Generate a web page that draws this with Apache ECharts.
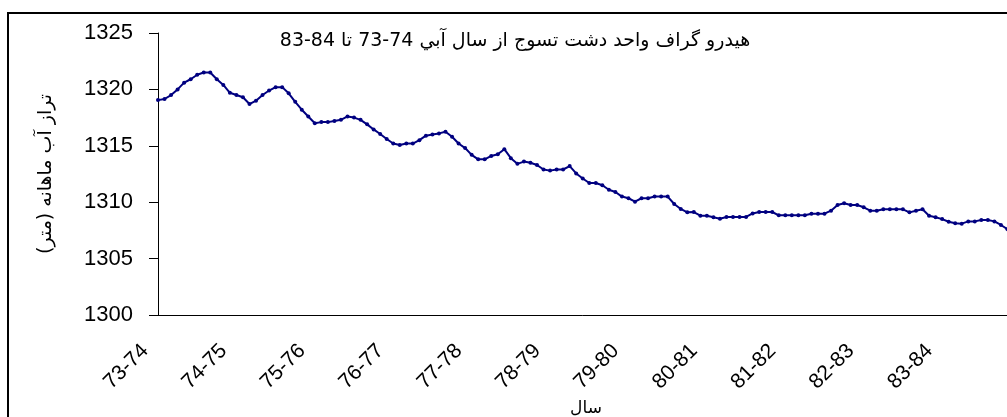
<!DOCTYPE html>
<html>
<head>
<meta charset="utf-8">
<script src="https://cdn.jsdelivr.net/npm/echarts@6/dist/echarts.min.js"></script>
<style>
html,body{margin:0;padding:0;background:#fff;}
#chart{width:1007px;height:417px;}
</style>
</head>
<body>
<div id="chart"></div>
<script>
const chartTitle = 'هيدرو گراف واحد دشت تسوج از سال آبي 74-73 تا 84-83';
const yAxisName = 'تراز آب ماهانه (متر)';
const xAxisName = 'سال';
const years = ['73-74','74-75','75-76','76-77','77-78','78-79','79-80','80-81','81-82','82-83','83-84'];
const yTicks = { min: 1300, max: 1325, step: 5 };
// monthly water level (m), 12 per water year
const levels = [
  1319.05,1319.15,1319.5,1320.0,1320.6,1320.9,1321.3,1321.5,1321.5,1320.9,1320.4,1319.7,
  1319.5,1319.3,1318.7,1319.0,1319.5,1319.9,1320.2,1320.2,1319.65,1318.9,1318.2,1317.6,
  1317.0,1317.1,1317.1,1317.2,1317.3,1317.6,1317.5,1317.3,1316.9,1316.45,1316.05,1315.6,
  1315.2,1315.07,1315.2,1315.2,1315.5,1315.9,1316.0,1316.1,1316.25,1315.8,1315.2,1314.8,
  1314.2,1313.8,1313.8,1314.1,1314.25,1314.7,1313.9,1313.4,1313.6,1313.5,1313.3,1312.9,
  1312.8,1312.9,1312.9,1313.2,1312.55,1312.1,1311.7,1311.7,1311.5,1311.1,1310.9,1310.5,
  1310.35,1310.05,1310.35,1310.35,1310.5,1310.5,1310.5,1309.84,1309.4,1309.1,1309.13,1308.8,
  1308.8,1308.66,1308.54,1308.69,1308.69,1308.69,1308.69,1309.0,1309.13,1309.13,1309.13,1308.84,
  1308.84,1308.84,1308.84,1308.84,1308.98,1308.98,1308.98,1309.25,1309.75,1309.9,1309.75,1309.75,
  1309.55,1309.25,1309.25,1309.37,1309.37,1309.37,1309.37,1309.1,1309.25,1309.37,1308.8,1308.66,
  1308.5,1308.27,1308.13,1308.1,1308.3,1308.3,1308.42,1308.42,1308.3,1307.98,1307.6,1307.3
];

const categories = [];
years.forEach(y => { for (let m = 0; m < 12; m++) categories.push(y); });

const FONT = '"Liberation Sans", Arial, "DejaVu Sans", sans-serif';
const FA_FONT = '"DejaVu Sans", "Liberation Sans", sans-serif';
const chart = echarts.init(document.getElementById('chart'), null, { renderer: 'canvas' });
chart.setOption({
  animation: false,
  backgroundColor: '#ffffff',
  graphic: [{
    type: 'rect',
    shape: { x: 8, y: 13, width: 1100, height: 500 },
    style: { fill: 'none', stroke: '#000', lineWidth: 2 },
    silent: true
  }],
  title: {
    text: chartTitle,
    left: 510,
    top: 27,
    textAlign: 'center',
    textStyle: { fontFamily: FA_FONT, fontSize: 19, fontWeight: 'normal', color: '#000' }
  },
  grid: { left: 158, top: 33, right: -7, bottom: 102, containLabel: false, outerBoundsMode: 'none' },
  xAxis: {
    type: 'category',
    data: categories,
    boundaryGap: false,
    name: xAxisName,
    nameLocation: 'middle',
    nameGap: 83,
    nameTextStyle: { fontFamily: FA_FONT, fontSize: 17, color: '#000' },
    axisLine: { lineStyle: { color: '#000', width: 1 } },
    axisTick: { show: false },
    axisLabel: {
      interval: 11,
      rotate: 45,
      margin: 20,
      padding: [0, 18, 0, 0],
      fontFamily: FONT,
      fontSize: 21,
      color: '#000'
    },
    splitLine: { show: false }
  },
  yAxis: {
    type: 'value',
    min: yTicks.min,
    max: yTicks.max,
    interval: yTicks.step,
    name: yAxisName,
    nameLocation: 'middle',
    nameGap: 102,
    nameTextStyle: { fontFamily: FA_FONT, fontSize: 19, color: '#000' },
    axisLine: { show: true, lineStyle: { color: '#000', width: 1 } },
    axisTick: { show: true, length: 9, lineStyle: { color: '#000' } },
    axisLabel: { margin: 25, fontFamily: FONT, fontSize: 22, color: '#000', formatter: v => String(v) },
    splitLine: { show: false }
  },
  series: [{
    type: 'line',
    data: levels,
    symbol: 'circle',
    symbolSize: 4,
    showSymbol: true,
    lineStyle: { color: '#000080', width: 2 },
    itemStyle: { color: '#000080' }
  }]
});
</script>
</body>
</html>
